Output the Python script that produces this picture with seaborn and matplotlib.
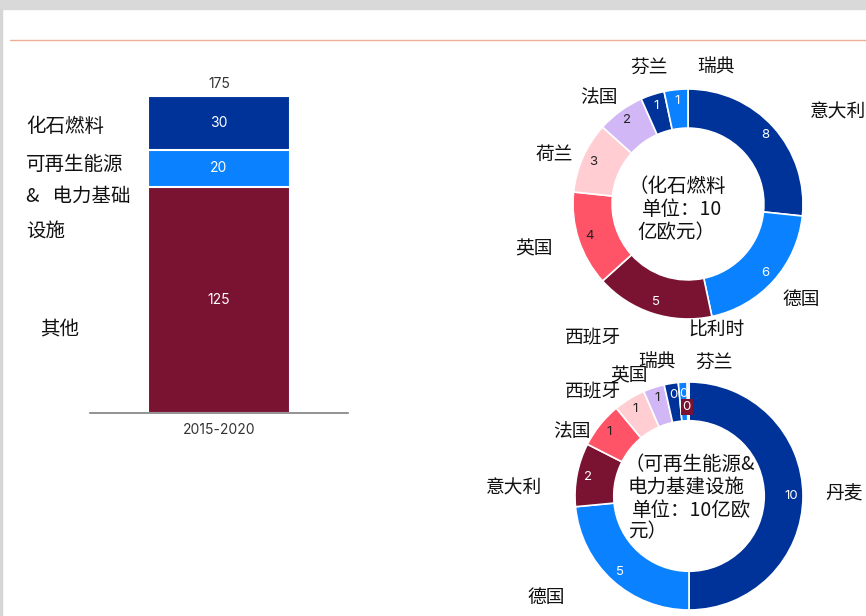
import matplotlib
matplotlib.use("Agg")
import matplotlib.pyplot as plt
import seaborn as sns
import pandas as pd
import numpy as np
from matplotlib.patches import Rectangle

# ----------------------------------------------------------
# DATA
# ----------------------------------------------------------

bar_period = "2015-2020"
bar_parts = ["其他", "可再生能源 & 电力基础设施", "化石燃料"]
bar_values = [125, 20, 30]

fossil_countries = ["意大利", "德国", "比利时", "英国", "荷兰", "法国", "芬兰", "瑞典"]
fossil_values = [8, 6, 5, 4, 3, 2, 1, 1]

renew_countries = ["丹麦", "德国", "意大利", "法国", "西班牙", "英国", "瑞典", "芬兰", "其他"]
renew_values = [10, 4.7, 1.8, 1.3, 0.9, 0.6, 0.4, 0.25, 0.05]

# ----------------------------------------------------------
# STYLE
# ----------------------------------------------------------

NAVY = "#00339A"
BLUE = "#0A82FF"
MAROON = "#7A1232"
CORAL = "#FF5468"
PINK = "#FFCDD2"
LAVENDER = "#D1B7F5"
ring_colors = [NAVY, BLUE, MAROON, CORAL, PINK, LAVENDER, NAVY, BLUE, MAROON]
num_colors = ["white", "white", "white", "#222222", "#222222", "#222222", "white", "white", "white"]
NUM_FONT = ["Inter", "DejaVu Sans"]

sns.set_theme(style="white")
plt.rcParams["font.family"] = ["Noto Sans CJK SC", "DejaVu Sans"]

W, H = 866, 616
fig = plt.figure(figsize=(W / 100, H / 100), dpi=100)


def px(x, y):
    return x / W, 1 - y / H


def box(x0, y0, x1, y1):
    return [x0 / W, 1 - y1 / H, (x1 - x0) / W, (y1 - y0) / H]


# page decoration
fig.patches.append(Rectangle((0, 1 - 9 / H), 1, 9 / H, transform=fig.transFigure,
                             color="#D9D9D9", zorder=0))
fig.patches.append(Rectangle((0, 0), 2 / W, 1 - 9 / H, transform=fig.transFigure,
                             color="#D6D6D6", zorder=0))
fig.add_artist(plt.Line2D([10 / W, 1], [1 - 40 / H] * 2, transform=fig.transFigure,
                          color="#EFAE98", lw=1))

# ----------------------------------------------------------
# STACKED BAR
# ----------------------------------------------------------

ax = fig.add_axes(box(90, 96, 348, 413))
cum = np.cumsum(bar_values)
bar_colors = [MAROON, BLUE, NAVY]
for i in range(len(bar_values) - 1, -1, -1):
    df = pd.DataFrame({"period": [bar_period], "value": [cum[i]]})
    sns.barplot(data=df, x="period", y="value", color=bar_colors[i], width=1.0,
                saturation=1, edgecolor="white", linewidth=1.5, ax=ax)
ax.set_xlim(-0.91, 0.91)
ax.set_ylim(0, cum[-1])
ax.set_xlabel("")
ax.set_ylabel("")
ax.set_yticks([])
for s in ["top", "right", "left"]:
    ax.spines[s].set_visible(False)
ax.spines["bottom"].set_color("#808080")
ax.spines["bottom"].set_linewidth(1.2)
ax.tick_params(axis="x", length=0, pad=7, labelsize=10, labelcolor="#333333")
for lab in ax.get_xticklabels():
    lab.set_family(NUM_FONT)

bottoms = np.concatenate([[0], cum[:-1]])
for b, v in zip(bottoms, bar_values):
    ax.text(0, b + v / 2, str(v), ha="center", va="center", color="white",
            fontsize=10, family=NUM_FONT)
ax.text(0, cum[-1] + 3, str(cum[-1]), ha="center", va="bottom", color="#333333",
        fontsize=10, family=NUM_FONT, clip_on=False)

label_kw = dict(fontsize=14, color="#111111", va="center", ha="left")
fig.text(*px(26, 126), "化石燃料", **label_kw)
fig.text(*px(26, 165), "可再生能源", **label_kw)
fig.text(*px(26, 196), "&   电力基础", **label_kw)
fig.text(*px(26, 231), "设施", **label_kw)
fig.text(*px(40, 330), "其他", **label_kw)

# ----------------------------------------------------------
# DONUTS
# ----------------------------------------------------------


def donut(cx, cy, r, values):
    a = fig.add_axes(box(cx - r, cy - r, cx + r, cy + r))
    a.pie(values, colors=ring_colors[:len(values)], startangle=90,
          counterclock=False, radius=1,
          wedgeprops=dict(width=0.34, edgecolor="white", linewidth=1.2))
    a.set_xlim(-1, 1)
    a.set_ylim(-1, 1)
    a.set_aspect("equal")
    a.axis("off")
    return a


def ring_numbers(a, values, r=0.9, n=None):
    total = sum(values)
    start = 90.0
    n = len(values) if n is None else n
    for i, v in enumerate(values[:n]):
        mid = start - v / total * 360 / 2
        start -= v / total * 360
        x, y = r * np.cos(np.radians(mid)), r * np.sin(np.radians(mid))
        a.text(x, y, f"{v:.0f}", ha="center", va="center", color=num_colors[i],
               fontsize=9.5, family=NUM_FONT)


ax1 = donut(688, 204, 115, fossil_values)
ring_numbers(ax1, fossil_values)

ax2 = donut(689, 496, 114, renew_values)
ring_numbers(ax2, renew_values, n=len(renew_values) - 1)
# last tiny slice: boxed label just under it
ax2.text(-0.02, 0.78, f"{renew_values[-1]:.0f}", ha="center", va="center", color="white",
         fontsize=9.5, family=NUM_FONT,
         bbox=dict(boxstyle="square,pad=0.15", fc=MAROON, ec="none"))

name_kw = dict(fontsize=13.5, color="#111111", va="center", ha="left")
# fossil donut country names
for name, (x, y) in zip(
        ["芬兰", "瑞典", "法国", "意大利", "荷兰", "英国", "德国", "比利时", "西班牙"],
        [(630, 67), (697, 67), (580, 98), (810, 112), (536, 154), (515, 249),
         (782, 300), (688, 330), (565, 338)]):
    fig.text(*px(x, y), name, **name_kw)

center_kw = dict(fontsize=14, color="#111111", va="center", ha="left")
fig.text(*px(628, 187), "（化石燃料", **center_kw)
fig.text(*px(642, 210), "单位：10", **center_kw)
fig.text(*px(637, 232), "亿欧元）", **center_kw)

# renewables donut country names
for name, (x, y) in zip(
        ["西班牙", "英国", "瑞典", "芬兰", "法国", "意大利", "丹麦", "德国"],
        [(565, 392), (610, 376), (638, 362), (695, 362), (553, 432), (486, 488),
         (825, 494), (527, 598)]):
    fig.text(*px(x, y), name, **name_kw)

fig.text(*px(625, 465), "（可再生能源&", **center_kw)
fig.text(*px(628, 488), "电力基建设施", **center_kw)
fig.text(*px(632, 510), "单位：10亿欧", **center_kw)
fig.text(*px(628, 532), "元）", **center_kw)

fig.savefig("out.png", dpi=100)
